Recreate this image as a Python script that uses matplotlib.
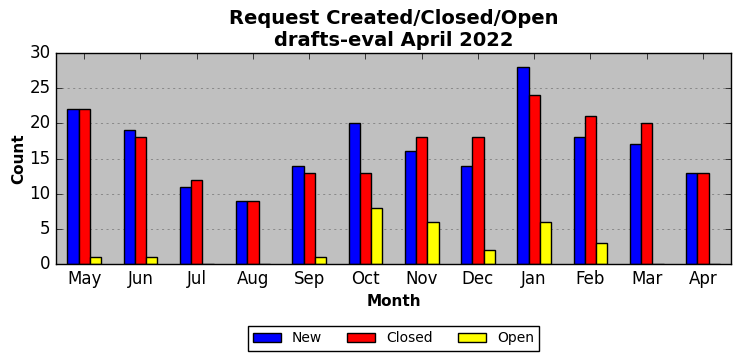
import numpy as np
import matplotlib
matplotlib.use('Agg')
import matplotlib.pyplot as plt

plt.style.use('classic')

months = ['May', 'Jun', 'Jul', 'Aug', 'Sep', 'Oct', 'Nov', 'Dec', 'Jan', 'Feb', 'Mar', 'Apr']
new = [22, 19, 11, 9, 14, 20, 16, 14, 28, 18, 17, 13]
closed = [22, 18, 12, 9, 13, 13, 18, 18, 24, 21, 20, 13]
opened = [1, 1, 0, 0, 1, 8, 6, 2, 6, 3, 0, 0]

fig = plt.figure(figsize=(7.42, 3.61), dpi=100)
ax = fig.add_axes([56 / 742, 1 - 264 / 361, 675 / 742, 211 / 361])
ax.set_facecolor('silver')

x = np.arange(len(months))
w = 0.2
ax.bar(x - w, new, w, color='blue', edgecolor='black', linewidth=1, label='New', align='center')
ax.bar(x, closed, w, color='red', edgecolor='black', linewidth=1, label='Closed', align='center')
ax.bar(x + w, opened, w, color='yellow', edgecolor='black', linewidth=1, label='Open', align='center')

ax.set_xlim(-0.5, len(months) - 0.5)
ax.set_ylim(0, 30)
ax.set_xticks(x)
ax.set_xticklabels(months)
ax.yaxis.grid(True, color='gray', linestyle=(0, (1.5, 2.5)), linewidth=0.6)
ax.set_axisbelow(True)

ax.set_title('Request Created/Closed/Open\ndrafts-eval April 2022', fontweight='bold', fontsize=14)
ax.set_xlabel('Month', fontweight='bold', fontsize=11)
ax.set_ylabel('Count', fontweight='bold', fontsize=11, labelpad=2)

ax.legend(loc='upper center', bbox_to_anchor=(0.5, -0.26), ncol=3, fontsize=10,
          numpoints=1, columnspacing=1.8)

fig.savefig('out.png', dpi=100)
